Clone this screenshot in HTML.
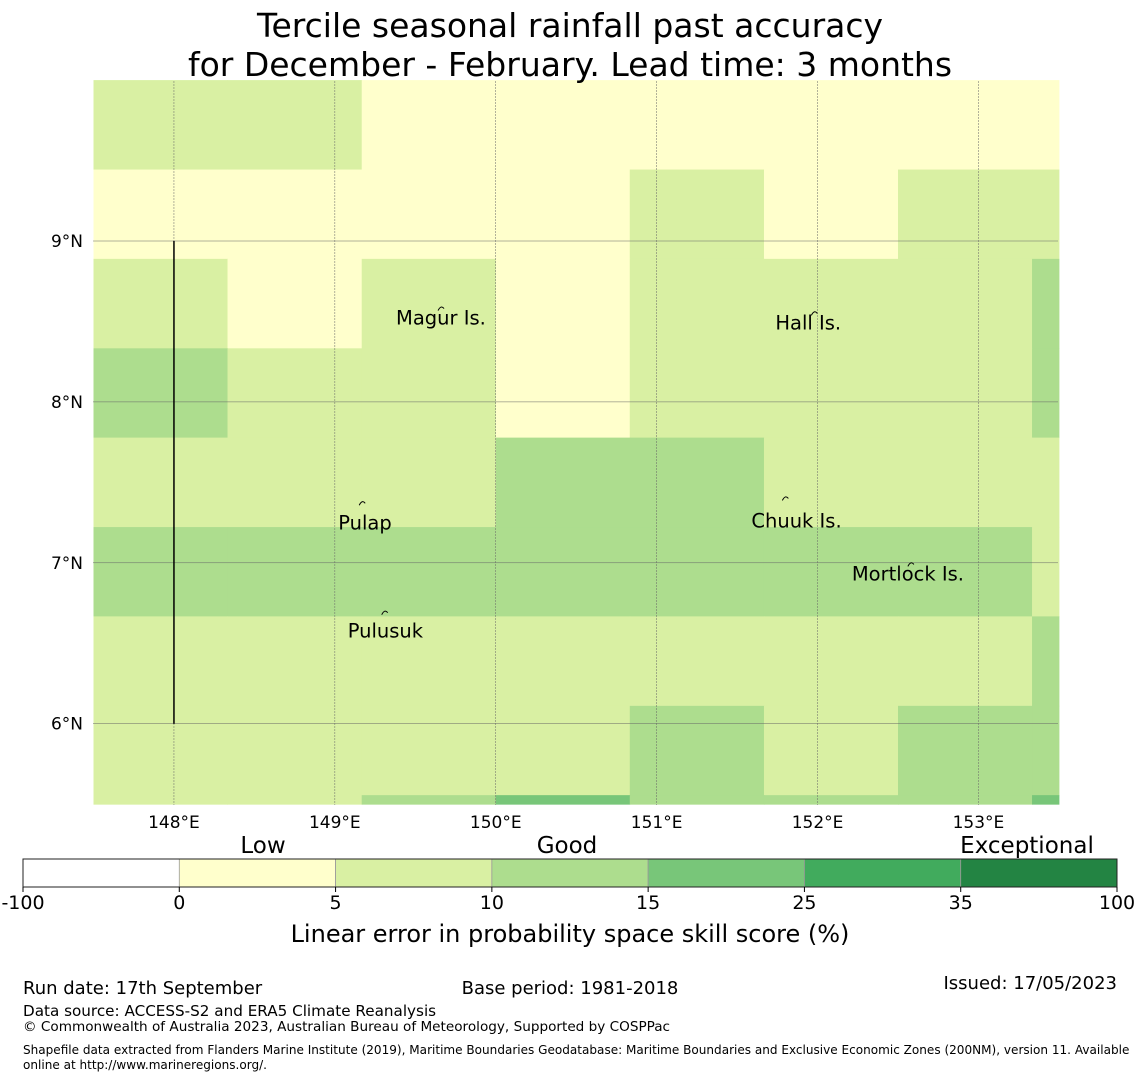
<!DOCTYPE html>
<html><head><meta charset="utf-8"><style>
body{margin:0;background:#fff;}
svg text{font-family:"DejaVu Sans","Liberation Sans",sans-serif;}
</style></head><body>
<svg id="chart" width="1140" height="1080" xmlns="http://www.w3.org/2000/svg">
<g id="cells"></g>
<g id="grid"></g>
<g id="islands"></g>
<g id="axes"></g>
<g id="cbar"></g>
<text x="570" y="37" font-size="33" text-anchor="middle">Tercile seasonal rainfall past accuracy</text>
<text x="570" y="76" font-size="33" text-anchor="middle">for December - February. Lead time: 3 months</text>
<text x="570" y="942" font-size="24" text-anchor="middle">Linear error in probability space skill score (%)</text>
<text x="23" y="994" font-size="18">Run date: 17th September</text>
<text x="570" y="994" font-size="18" text-anchor="middle">Base period: 1981-2018</text>
<text x="1117" y="989" font-size="18" text-anchor="end">Issued: 17/05/2023</text>
<text x="23" y="1016" font-size="15.2">Data source: ACCESS-S2 and ERA5 Climate Reanalysis</text>
<text x="23" y="1031" font-size="13.6">© Commonwealth of Australia 2023, Australian Bureau of Meteorology, Supported by COSPPac</text>
<text x="23" y="1054" font-size="12.05">Shapefile data extracted from Flanders Marine Institute (2019), Maritime Boundaries Geodatabase: Maritime Boundaries and Exclusive Economic Zones (200NM), version 11. Available</text>
<text x="23" y="1069" font-size="12.05">online at http://www.marineregions.org/.</text>
</svg>
<script>
// cell edges (degrees)
const lonEdges = [147.5, 148.333, 149.167, 150.0, 150.833, 151.667, 152.5, 153.333, 153.5];
const latEdges = [10.0, 9.444, 8.889, 8.333, 7.778, 7.222, 6.667, 6.111, 5.556, 5.5];
// skill score values per row (top to bottom)
const row0 = [7, 7, 3, 3, 3, 3, 3, 3];
const row1 = [3, 3, 3, 3, 7, 3, 7, 7];
const row2 = [7, 3, 7, 3, 7, 7, 7, 12];
const row3 = [12, 7, 7, 3, 7, 7, 7, 12];
const row4 = [7, 7, 7, 12, 12, 7, 7, 7];
const row5 = [12, 12, 12, 12, 12, 12, 12, 7];
const row6 = [7, 7, 7, 7, 7, 7, 7, 12];
const row7 = [7, 7, 7, 7, 12, 7, 12, 12];
const row8 = [7, 7, 12, 20, 12, 12, 12, 20];
const rows = [row0, row1, row2, row3, row4, row5, row6, row7, row8];
const bounds = [-100, 0, 5, 10, 15, 25, 35, 100];
const colors = ['#ffffff', '#ffffcc', '#d9f0a3', '#addd8e', '#78c679', '#41ab5d', '#238443'];
const lonTicks = [148, 149, 150, 151, 152, 153];
const latTicks = [9, 8, 7, 6];
const islands = [
  {name: 'Magur Is.', lon: 149.66, lat: 8.58, dx: -45, dy: 16},
  {name: 'Hall Is.', lon: 151.98, lat: 8.55, dx: -39, dy: 16},
  {name: 'Pulap', lon: 149.17, lat: 7.37, dx: -24, dy: 26},
  {name: 'Chuuk Is.', lon: 151.8, lat: 7.4, dx: -34, dy: 29},
  {name: 'Mortlock Is.', lon: 152.58, lat: 6.99, dx: -59, dy: 16},
  {name: 'Pulusuk', lon: 149.31, lat: 6.69, dx: -37, dy: 25}
];
const NS = 'http://www.w3.org/2000/svg';
const x = lon => 93.5 + (lon - 147.5) * 160.9;
const y = lat => 241 + (9 - lat) * 160.9;
function colorFor(v){ for(let i=0;i<colors.length;i++){ if(v < bounds[i+1]) return colors[i]; } return colors[colors.length-1]; }
function mk(tag, attrs, parent){ const e=document.createElementNS(NS,tag); for(const k in attrs) e.setAttribute(k, attrs[k]); parent.appendChild(e); return e; }
const cells = document.getElementById('cells');
rows.forEach((r, ri) => r.forEach((v, ci) => {
  const x0 = x(lonEdges[ci]), x1 = x(lonEdges[ci+1]);
  const y0 = y(latEdges[ri]), y1 = y(latEdges[ri+1]);
  const el = mk('rect', {x: x0, y: y0, width: x1 - x0 + 0.5, height: y1 - y0 + 0.5, fill: colorFor(v)}, cells);
  
  
}));
const grid = document.getElementById('grid');
const axes = document.getElementById('axes');
lonTicks.forEach(t => {
  const el = mk('line', {x1: x(t), x2: x(t), y1: 81, y2: 805, stroke: '#666', 'stroke-width': 0.5, 'stroke-dasharray': '2,1'}, grid);
  
  
  const tx = mk('text', {x: x(t), y: 828, 'font-size': 17, 'text-anchor': 'middle'}, axes);
  tx.textContent = t + '°E';
  
  
});
latTicks.forEach(t => {
  const el = mk('line', {x1: 93, x2: 1058, y1: y(t), y2: y(t), stroke: '#666', 'stroke-width': 0.5}, grid);
  
  
  const tx = mk('text', {x: 83, y: y(t) + 6, 'font-size': 17, 'text-anchor': 'end'}, axes);
  tx.textContent = t + '°N';
  
  
});
const vl = mk('line', {x1: x(148), x2: x(148), y1: y(9), y2: y(6), stroke: '#000', 'stroke-width': 1.5}, grid);


const isl = document.getElementById('islands');
islands.forEach(s => {
  const c = mk('path', {d: `M${x(s.lon)-3},${y(s.lat)+2} q3,-6 6,-2`, fill: 'none', stroke: '#000', 'stroke-width': 1}, isl);
  
  
  const t = mk('text', {x: x(s.lon) + s.dx, y: y(s.lat) + s.dy, 'font-size': 19.5}, isl);
  t.textContent = s.name;
  
  
});
const cb = document.getElementById('cbar');
const segW = (1117 - 23) / colors.length;
colors.forEach((c, i) => {
  const r = mk('rect', {x: 23 + i * segW, y: 859, width: segW, height: 28, fill: c, stroke: i === 0 ? 'none' : '#999', 'stroke-width': 0.8}, cb);
  
  
});
const fr = mk('rect', {x: 23, y: 859, width: 1094, height: 28, fill: 'none', stroke: '#222', 'stroke-width': 1}, cb);


bounds.forEach((b, i) => {
  const tk = mk('line', {x1: 23 + i * segW, x2: 23 + i * segW, y1: 887, y2: 892, stroke: '#000'}, cb);
  
  
  const t = mk('text', {x: 23 + i * segW, y: 909, 'font-size': 19, 'text-anchor': 'middle'}, cb);
  t.textContent = b;
  
  
});
[['Low', 263], ['Good', 567], ['Exceptional', 1027]].forEach(([s, px]) => {
  const t = mk('text', {x: px, y: 853, 'font-size': 23, 'text-anchor': 'middle'}, cb);
  t.textContent = s;
  
  
});
</script>
</body></html>
